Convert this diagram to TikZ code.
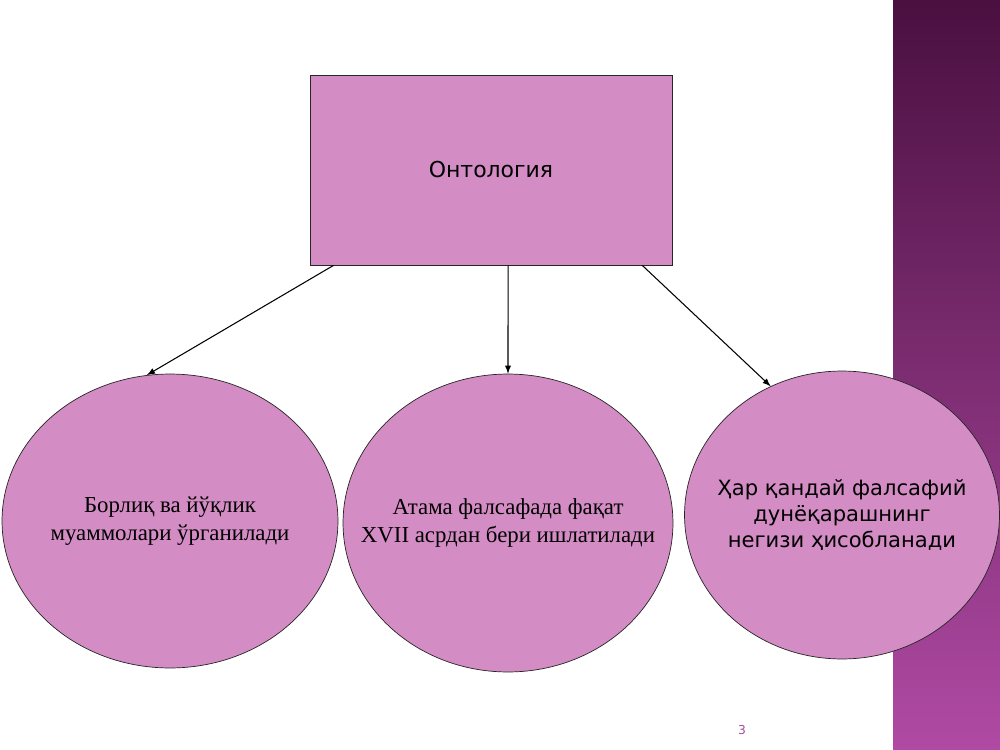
\documentclass[tikz,border=0pt]{standalone}
\usepackage{fontspec}
\setmainfont{Liberation Serif}
\newfontfamily\slidesans{DejaVu Sans}
\usetikzlibrary{shapes.geometric,calc}
\definecolor{orchidfill}{RGB}{212,140,196}
\definecolor{striptop}{RGB}{74,16,64}
\definecolor{stripbottom}{RGB}{176,74,164}
\definecolor{pagenum}{RGB}{160,80,154}
\tikzset{
  idea/.style={ellipse,draw=black!85,fill=orchidfill,inner xsep=-1.2cm,inner ysep=0pt,align=center},
  link/.style={-latex,semithick,black}
}
\begin{document}
\begin{tikzpicture}[x=0.02cm,y=-0.02cm]
  \useasboundingbox (0,0) rectangle (1000,750);
  \fill[white] (0,0) rectangle (1000,750);
  % purple strip on the right
  \shade[top color=striptop,bottom color=stripbottom] (893,0) rectangle (1000,750);

  \node[draw=black!85,fill=orchidfill,minimum width=7.24cm,minimum height=3.8cm,inner sep=0pt,font=\slidesans\fontsize{12.5}{15}\selectfont] (onto) at (491,170) {Онтология};

  \node[idea,minimum width=6.72cm,minimum height=5.88cm,font=\fontsize{13}{16}\selectfont] (bor) at (170,521)
    {Борлиқ ва йўқлик\\муаммолари ўрганилади};
  \node[idea,minimum width=6.6cm,minimum height=5.96cm,font=\fontsize{13}{16}\selectfont] (ata) at (508,523)
    {Атама фалсафада фақат\\XVII асрдан бери ишлатилади};
  \node[idea,minimum width=6.3cm,minimum height=5.76cm,font=\slidesans\fontsize{12}{14.8}\selectfont] (har) at (842,515)
    {Ҳар қандай фалсафий\\дунёқарашнинг\\негизи ҳисобланади};

  \draw[link] ($(onto.south west)!0.066!(onto.south east)$) -- (bor.99);
  \draw[link] ($(onto.south west)!0.547!(onto.south east)$) -- (ata.90);
  \draw[link] ($(onto.south west)!0.917!(onto.south east)$) -- (har.119);

  \node[text=pagenum,font=\slidesans\fontsize{7}{8}\selectfont] (page) at (742,730) {3};
\end{tikzpicture}
\end{document}
